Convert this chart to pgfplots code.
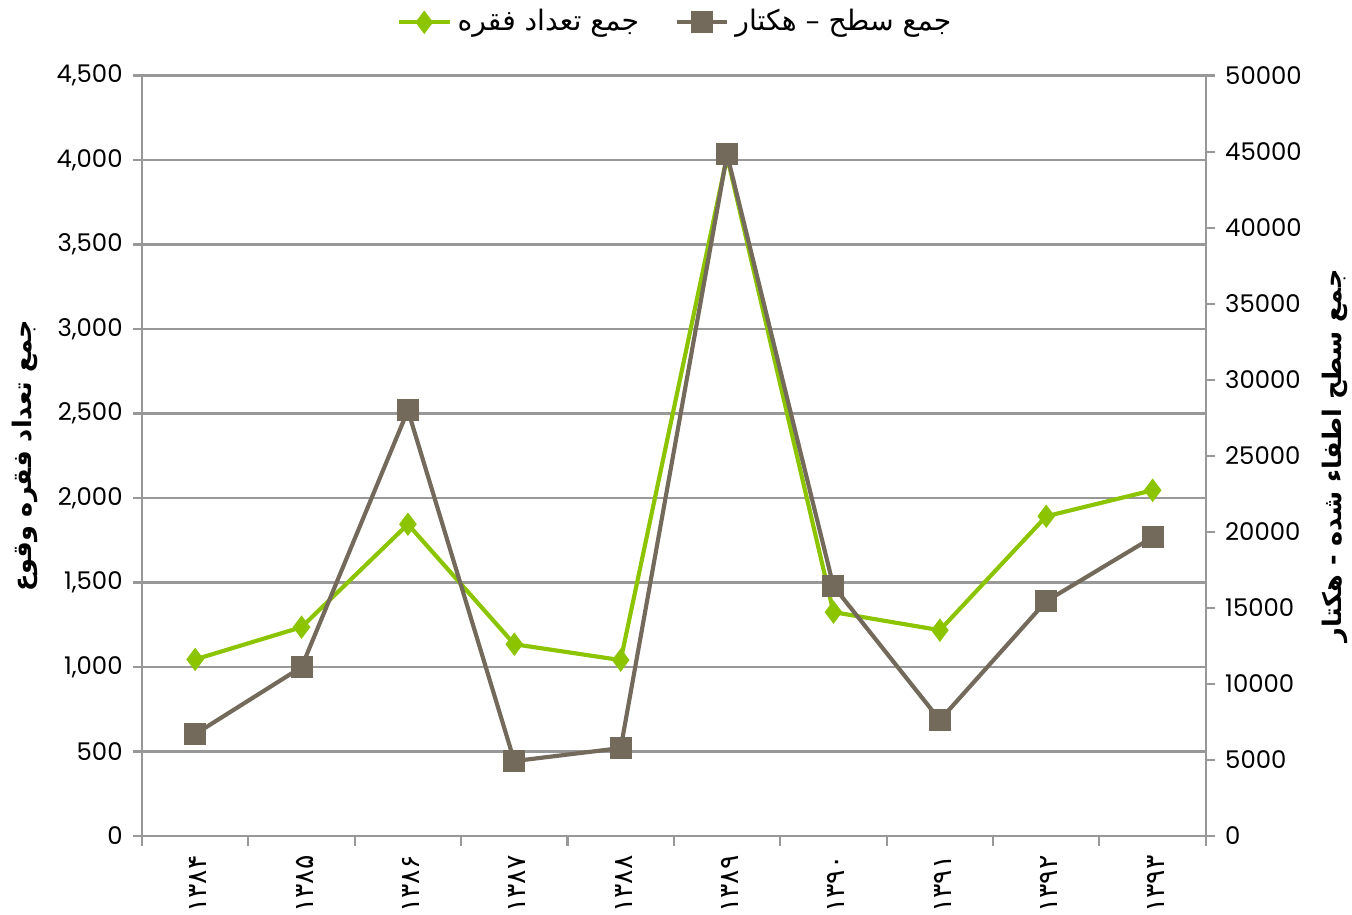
\documentclass[border=0pt]{standalone}
\usepackage{fontspec}
\setmainfont{Poppins}
\newfontfamily\arabicfont[Script=Arabic]{DejaVu Sans}
\TeXXeTstate=1
\usepackage{pgfplots}
\pgfplotsset{compat=1.18}
\definecolor{cgreen}{HTML}{8DC400}
\definecolor{cgray}{HTML}{736A5B}
\definecolor{cgrid}{HTML}{989898}

\pgfplotsset{
  base/.style={
    scale only axis, width=12.59cm, height=9.0cm,
    xmin=-0.5, xmax=9.5,
    axis line style={cgrid, line width=0.7pt},
    tick style={cgrid, line width=0.7pt},
    tick align=outside,
    major tick length=3pt,
    /pgf/number format/assume math mode=true,
    ticklabel style={font=\fontsize{8.2}{10}\selectfont},
  },
}

\begin{document}
\begin{tikzpicture}
\useasboundingbox (-1.680,-0.923) rectangle (14.320,9.894);
\begin{axis}[
  base,
  ymin=0, ymax=4500, ytick distance=500,
  ytick pos=left,
  /pgf/number format/1000 sep={,},
  ymajorgrids, grid style={cgrid, line width=0.7pt},
  xtick={0,...,9},
  xticklabels={۱۳۸۴,۱۳۸۵,۱۳۸۶,۱۳۸۷,۱۳۸۸,۱۳۸۹,۱۳۹۰,۱۳۹۱,۱۳۹۲,۱۳۹۳},
  xtick pos=bottom,
  major x tick style={draw=none},
  minor xtick={-0.5,0.5,...,9.5},
  minor tick length=3.3pt,
  xticklabel style={rotate=90, anchor=east, font=\arabicfont\fontsize{9}{10}\selectfont, yshift=-1pt},
  ylabel={\arabicfont\bfseries\beginR جمع تعداد فقره وقوع\endR},
  every axis y label/.style={at={(axis description cs:-0.11,0.5)}, rotate=90, anchor=center, font=\fontsize{8.6}{11}\selectfont},
  legend style={at={(0.503,1.07)}, anchor=center, draw=none, legend columns=2,
    font=\arabicfont\fontsize{9.5}{11}\selectfont,
    /tikz/every even column/.append style={column sep=0.35cm}},
]
\addplot[cgreen, line width=1.4pt, mark=diamond*, mark size=2.8pt, mark options={fill=cgreen, draw=cgreen}]
coordinates {(0,1045) (1,1236) (2,1845) (3,1135) (4,1041) (5,4021) (6,1325) (7,1218) (8,1892) (9,2046)};
\addlegendentry{\beginR جمع تعداد فقره\endR}
\addlegendimage{cgray, line width=1.4pt, mark=square*, mark size=3pt, mark options={fill=cgray, draw=cgray}}
\addlegendentry{\beginR جمع سطح – هکتار\endR}
\end{axis}
\begin{axis}[
  base,
  ymin=0, ymax=50000, ytick distance=5000,
  scaled y ticks=false,
  axis y line*=right,
  hide x axis,
  /pgf/number format/1000 sep={},
  ylabel={\arabicfont\bfseries\beginR جمع سطح اطفاء شده - هکتار\endR},
  every axis y label/.style={at={(axis description cs:1.121,0.5)}, rotate=90, anchor=center, font=\fontsize{8.6}{11}\selectfont},
]
\addplot[cgray, line width=1.4pt, mark=square*, mark size=3pt, mark options={fill=cgray, draw=cgray}]
coordinates {(0,6702) (1,11104) (2,27990) (3,4928) (4,5782) (5,44810) (6,16426) (7,7622) (8,15440) (9,19645)};
\end{axis}
\end{tikzpicture}
\end{document}
